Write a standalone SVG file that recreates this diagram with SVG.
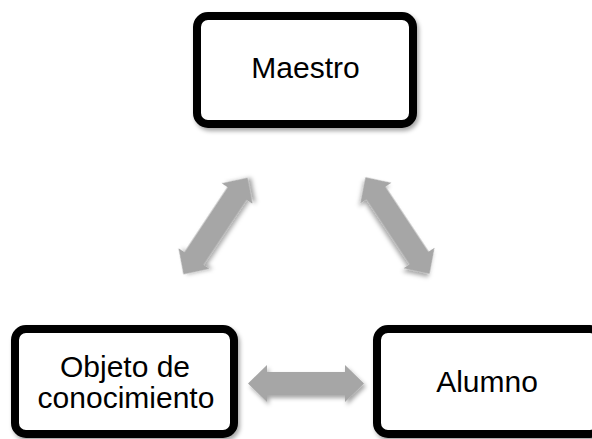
<svg xmlns="http://www.w3.org/2000/svg" width="592" height="439" viewBox="0 0 592 439">
  <defs>
    <filter id="shadow" x="-20%" y="-20%" width="140%" height="150%">
      <feDropShadow dx="2" dy="3" stdDeviation="2.2" flood-color="#000" flood-opacity="0.35"/>
    </filter>
    <polygon id="arrow" points="-58,0 -39,-18.5 -39,-11.5 39,-11.5 39,-18.5 58,0 39,18.5 39,11.5 -39,11.5 -39,18.5"/>
  </defs>
  <style>
    .box { fill: #ffffff; stroke: #000000; stroke-width: 8; filter: url(#shadow); }
    .label { font-family: "Liberation Sans", Arial, sans-serif; font-size: 30px; fill: #000000; text-anchor: middle; }
    .conn { fill: #a6a6a6; filter: url(#shadow); }
  </style>
  <rect width="592" height="439" fill="#ffffff"/>
  <g id="connectors">
    <use href="#arrow" class="conn" transform="translate(215.5,226) rotate(-56.4)"/>
    <use href="#arrow" class="conn" transform="translate(397.5,225.5) rotate(56.4)"/>
    <use href="#arrow" class="conn" transform="translate(306,383.5)"/>
  </g>
  <g id="maestro">
    <rect class="box" x="197" y="16" width="216" height="108" rx="11"/>
    <text class="label" x="305.5" y="78">Maestro</text>
  </g>
  <g id="objeto">
    <rect class="box" x="15" y="329" width="219" height="105" rx="11"/>
    <text class="label" x="125" y="377">Objeto de</text>
    <text class="label" x="126" y="408">conocimiento</text>
  </g>
  <g id="alumno">
    <rect class="box" x="377" y="329" width="224" height="105" rx="11"/>
    <text class="label" x="487" y="392">Alumno</text>
  </g>
</svg>
